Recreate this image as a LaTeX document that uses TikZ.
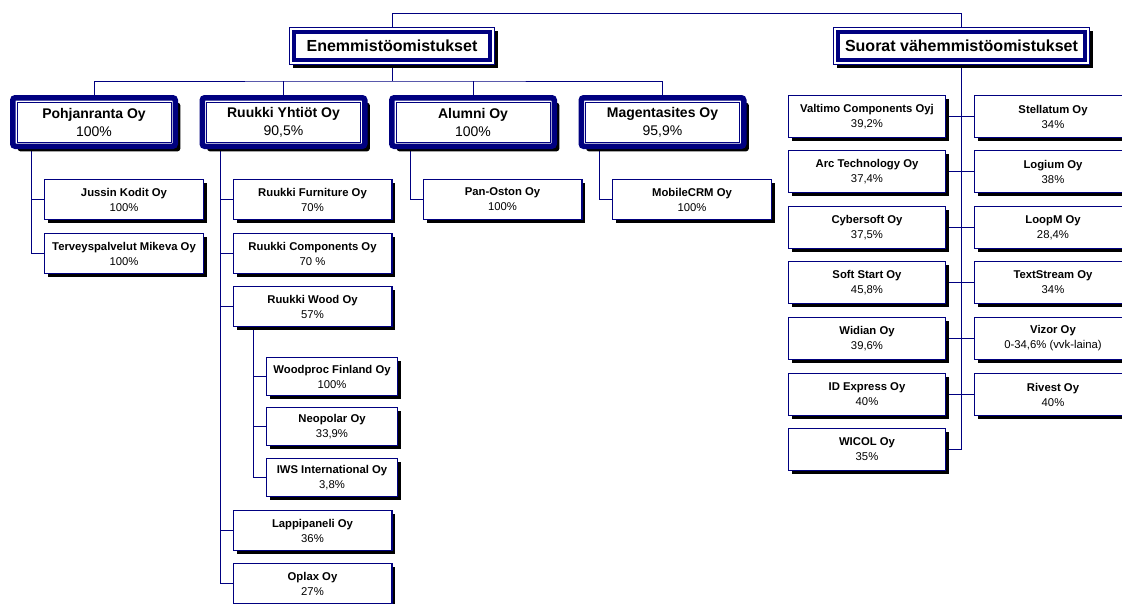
\documentclass[tikz,border=0pt]{standalone}
\usepackage{fontspec}
\setmainfont{Liberation Sans}
\usetikzlibrary{shadows}
\definecolor{navyc}{RGB}{0,0,128}
\pgfdeclarelayer{background}
\pgfsetlayers{background,main}
\begin{document}
\begin{tikzpicture}[x=1pt,y=-1pt,
  conn/.style={draw=navyc, line width=1pt},
  hdr/.style={rectangle, draw=navyc, line width=1pt, fill=white, inner sep=0pt,
    minimum height=37pt,
    drop shadow={shadow xshift=3.5pt, shadow yshift=-3.5pt, fill=black, opacity=1},
    font=\fontsize{16}{19}\selectfont\bfseries},
  hdrband/.style={draw=navyc, line width=4pt},
  mainbox/.style={rectangle, rounded corners=2.5pt, draw=navyc, line width=5.5pt,
    fill=white, inner sep=0pt, minimum width=162.5pt, minimum height=48.5pt,
    drop shadow={shadow xshift=5pt, shadow yshift=-5pt, fill=black, opacity=1},
    align=center, font=\fontsize{14}{18}\selectfont},
  innerframe/.style={draw=navyc, line width=0.9pt},
  subbox/.style={rectangle, draw=navyc, line width=1.3pt, fill=white, inner sep=0pt,
    minimum width=158.7pt, minimum height=39.7pt,
    drop shadow={shadow xshift=3.6pt, shadow yshift=-3.6pt, fill=black, opacity=1},
    align=center, font=\fontsize{11.3}{15}\selectfont},
  woodbox/.style={subbox, minimum width=130.7pt, minimum height=37.7pt},
  minbox/.style={subbox, minimum width=156.7pt, minimum height=41.7pt}
]
\useasboundingbox (0,0) rectangle (1122,603);
\clip (0,0) rectangle (1122,603);
\begin{pgfonlayer}{background}
  \fill[white] (0,0) rectangle (1122,603);
\end{pgfonlayer}

% headers
\node[hdr, minimum width=205pt] (enem) at (392,45.5) {Enemmistöomistukset};
\node[hdr, minimum width=256pt] (suor) at (961.5,45.5) {Suorat vähemmistöomistukset};
\draw[hdrband] ([shift={(5pt,-5pt)}]enem.north west) rectangle ([shift={(-5pt,5pt)}]enem.south east);
\draw[hdrband] ([shift={(5pt,-5pt)}]suor.north west) rectangle ([shift={(-5pt,5pt)}]suor.south east);

% main boxes
\node[mainbox] (pohj) at (94,122) {\textbf{Pohjanranta Oy}\\100\%};
\node[mainbox] (ruuk) at (283.5,122) {\textbf{Ruukki Yhtiöt Oy}\\90,5\%};
\node[mainbox] (alum) at (473,122) {\textbf{Alumni Oy}\\100\%};
\node[mainbox] (mag) at (662.5,122) {\textbf{Magentasites Oy}\\95,9\%};
\foreach \n in {pohj,ruuk,alum,mag}
  \draw[innerframe] ([shift={(7pt,-7pt)}]\n.north west) rectangle ([shift={(-7pt,7pt)}]\n.south east);

% level 2
\node[subbox] (jussin) at (124,199.5) {\textbf{Jussin Kodit Oy}\\100\%};
\node[subbox] (terv) at (124,253.5) {\textbf{Terveyspalvelut Mikeva Oy}\\100\%};
\node[subbox] (furn) at (312.5,199.5) {\textbf{Ruukki Furniture Oy}\\70\%};
\node[subbox] (comp) at (312.5,253.5) {\textbf{Ruukki Components Oy}\\70 \%};
\node[subbox] (wood) at (312.5,306.5) {\textbf{Ruukki Wood Oy}\\57\%};
\node[woodbox] (wproc) at (332,376.5) {\textbf{Woodproc Finland Oy}\\100\%};
\node[woodbox] (neo) at (332,426.5) {\textbf{Neopolar Oy}\\33,9\%};
\node[woodbox] (iws) at (332,477.5) {\textbf{IWS International Oy}\\3,8\%};
\node[subbox] (lappi) at (312.5,530.5) {\textbf{Lappipaneli Oy}\\36\%};
\node[subbox] (oplax) at (312.5,583.5) {\textbf{Oplax Oy}\\27\%};
\node[subbox] (pan) at (502.5,199.5) {\textbf{Pan-Oston Oy}\\100\%};
\node[subbox] (mobile) at (692,199.5) {\textbf{MobileCRM Oy}\\100\%};

% minority boxes
\node[minbox] (valt) at (867,116.5) {\textbf{Valtimo Components Oyj}\\39,2\%};
\node[minbox] (arc) at (867,171.5) {\textbf{Arc Technology Oy}\\37,4\%};
\node[minbox] (cyber) at (867,227.5) {\textbf{Cybersoft Oy}\\37,5\%};
\node[minbox] (soft) at (867,282.5) {\textbf{Soft Start Oy}\\45,8\%};
\node[minbox] (widian) at (867,338.5) {\textbf{Widian Oy}\\39,6\%};
\node[minbox] (idexp) at (867,394.5) {\textbf{ID Express Oy}\\40\%};
\node[minbox] (wicol) at (867,449.5) {\textbf{WICOL Oy}\\35\%};
\node[minbox] (stel) at (1053,116.5) {\textbf{Stellatum Oy}\\34\%};
\node[minbox] (logium) at (1053,171.5) {\textbf{Logium Oy}\\38\%};
\node[minbox] (loopm) at (1053,227.5) {\textbf{LoopM Oy}\\28,4\%};
\node[minbox] (text) at (1053,282.5) {\textbf{TextStream Oy}\\34\%};
\node[minbox] (vizor) at (1053,338.5) {\textbf{Vizor Oy}\\0-34,6\% (vvk-laina)};
\node[minbox] (rivest) at (1053,394.5) {\textbf{Rivest Oy}\\40\%};

\begin{pgfonlayer}{background}
  \draw[conn] (enem.north) -- ++(0,-13.5) -| (suor.north);
  \coordinate (bar) at (392,81);
  \draw[conn] (enem.south) -- (bar);
  \draw[conn] (pohj.north) |- (bar) -| (mag.north);
  \draw[conn] (ruuk.north) -- (ruuk.north |- bar);
  \draw[conn] (alum.north) -- (alum.north |- bar);
  % Pohjanranta
  \coordinate (pv) at ([xshift=-63pt]pohj.south);
  \draw[conn] (pv) |- (terv.west);
  \draw[conn] (pv |- jussin.west) -- (jussin.west);
  % Ruukki
  \coordinate (rv) at ([xshift=-63.5pt]ruuk.south);
  \draw[conn] (rv) |- (oplax.west);
  \foreach \n in {furn,comp,wood,lappi}
    \draw[conn] (rv |- \n.west) -- (\n.west);
  % Wood
  \coordinate (wv) at ([xshift=-59.5pt]wood.south);
  \draw[conn] (wv) |- (iws.west);
  \foreach \n in {wproc,neo}
    \draw[conn] (wv |- \n.west) -- (\n.west);
  % Alumni, Magentasites
  \coordinate (av) at ([xshift=-63pt]alum.south);
  \draw[conn] (av) |- (pan.west);
  \coordinate (mv) at ([xshift=-63.5pt]mag.south);
  \draw[conn] (mv) |- (mobile.west);
  % minority
  \draw[conn] (suor.south) |- (wicol.east);
  \foreach \a/\b in {valt/stel,arc/logium,cyber/loopm,soft/text,widian/vizor,idexp/rivest}
    \draw[conn] (\a.east) -- (\b.west);
\end{pgfonlayer}
\end{tikzpicture}
\end{document}
